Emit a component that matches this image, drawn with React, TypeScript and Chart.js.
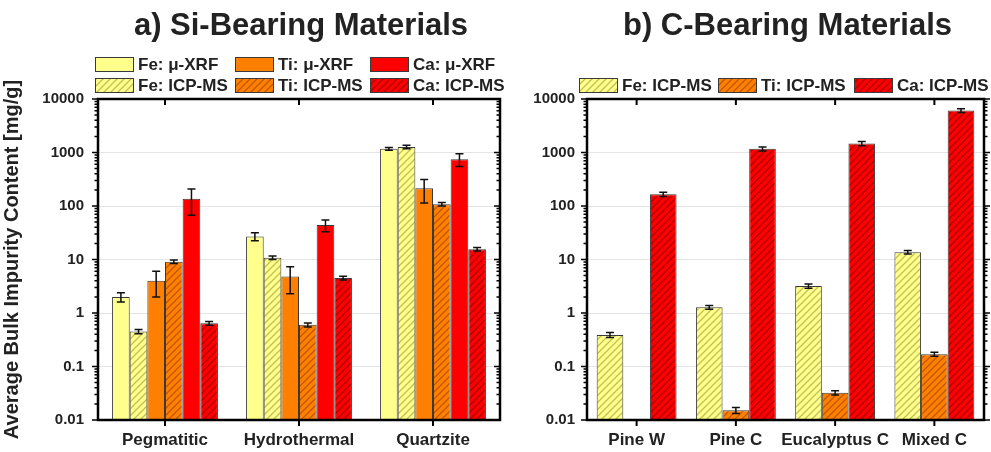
import React, { useEffect, useRef } from "react";
import { Chart, registerables } from "chart.js";
Chart.register(...registerables);

const FONT = "'Liberation Sans', Arial, sans-serif";

// ---------- data ----------
const siCategories = ["Pegmatitic", "Hydrothermal", "Quartzite"];
const cCategories = ["Pine W", "Pine C", "Eucalyptus C", "Mixed C"];
const tickLabels = ["0.01", "0.1", "1", "10", "100", "1000", "10000"];
const minorMultipliers = [2, 3, 4, 5, 6, 7, 8, 9];

const siFeXRF = [2.0, 27, 1170];
const siFeXRFErr = [0.4, 4.5, 70];
const siFeICP = [0.45, 10.8, 1270];
const siFeICPErr = [0.04, 0.8, 100];
const siTiXRF = [4.0, 4.8, 214];
const siTiXRFErr = [2.0, 2.5, 100];
const siTiICP = [9.1, 0.6, 108];
const siTiICPErr = [0.7, 0.05, 8];
const siCaXRF = [137, 44, 750];
const siCaXRFErr = [70, 11, 200];
const siCaICP = [0.64, 4.5, 15.6];
const siCaICPErr = [0.05, 0.35, 1.2];

const cFeICP = [0.39, 1.28, 3.2, 13.7];
const cFeICPErr = [0.04, 0.1, 0.3, 1.0];
const cTiICP = [null, 0.0152, 0.0323, 0.17];
const cTiICPErr = [null, 0.002, 0.003, 0.015];
const cCaICP = [165, 1170, 1470, 6080];
const cCaICPErr = [15, 100, 130, 500];

const seriesNames = ["Fe: \u03bc-XRF", "Fe: ICP-MS", "Ti: \u03bc-XRF", "Ti: ICP-MS", "Ca: \u03bc-XRF", "Ca: ICP-MS"];

// ---------- styles ----------
const COLORS = {
  Fe: { base: "#ffff8c", line: "#c4bf55" },
  Ti: { base: "#ff8000", line: "#c05800" },
  Ca: { base: "#ff0000", line: "#b00000" },
};
const BORDER = "#3a3a3a";
const TEXT = "#222";

function makeHatch(ctx: CanvasRenderingContext2D, base: string, line: string) {
  const s = 7;
  const c = document.createElement("canvas");
  c.width = s;
  c.height = s;
  const g = c.getContext("2d")!;
  g.fillStyle = base;
  g.fillRect(0, 0, s, s);
  g.strokeStyle = line;
  g.lineWidth = 1.3;
  g.beginPath();
  g.moveTo(-1, s + 1);
  g.lineTo(s + 1, -1);
  g.moveTo(-1, 1);
  g.lineTo(1, -1);
  g.moveTo(s - 1, s + 1);
  g.lineTo(s + 1, s - 1);
  g.stroke();
  return ctx.createPattern(c, "repeat")!;
}

const errorBarsPlugin = {
  id: "errorBars",
  afterDatasetsDraw(chart: any) {
    const ctx = chart.ctx;
    const y = chart.scales.y;
    chart.data.datasets.forEach((ds: any, di: number) => {
      const errs = ds.errors;
      if (!errs) return;
      const meta = chart.getDatasetMeta(di);
      meta.data.forEach((bar: any, i: number) => {
        const v = ds.data[i];
        const e = errs[i];
        if (v == null || e == null) return;
        const yt = y.getPixelForValue(v + e);
        const yb = y.getPixelForValue(Math.max(v - e, 1e-6));
        const x = bar.x;
        ctx.save();
        ctx.strokeStyle = "#111";
        ctx.lineWidth = 1.5;
        ctx.beginPath();
        ctx.moveTo(x, yt);
        ctx.lineTo(x, yb);
        ctx.moveTo(x - 4, yt);
        ctx.lineTo(x + 4, yt);
        ctx.moveTo(x - 4, yb);
        ctx.lineTo(x + 4, yb);
        ctx.stroke();
        ctx.restore();
      });
    });
  },
};

type LegendItem = { text: string; fill: any; x: number; y: number };

function decorPlugin(title: string, legend: LegendItem[], rightTicksOut: boolean) {
  return {
    id: "decor",
    afterDraw(chart: any) {
      const ctx: CanvasRenderingContext2D = chart.ctx;
      const { left, right, top, bottom } = chart.chartArea;
      const x = chart.scales.x;
      const y = chart.scales.y;
      ctx.save();
      // title
      ctx.fillStyle = TEXT;
      ctx.font = `bold 31px ${FONT}`;
      ctx.textAlign = "center";
      ctx.textBaseline = "alphabetic";
      ctx.fillText(title, (left + right) / 2 + 2, 35);
      // legend
      ctx.font = `bold 17px ${FONT}`;
      ctx.textAlign = "left";
      ctx.textBaseline = "middle";
      legend.forEach((it) => {
        ctx.fillStyle = it.fill;
        ctx.fillRect(it.x, it.y, 38, 14);
        ctx.strokeStyle = BORDER;
        ctx.lineWidth = 1;
        ctx.strokeRect(it.x + 0.5, it.y + 0.5, 38, 14);
        ctx.fillStyle = TEXT;
        ctx.fillText(it.text, it.x + 43, it.y + 8);
      });
      // y ticks (major + minor)
      ctx.strokeStyle = "#000";
      ctx.lineWidth = 1.5;
      ctx.beginPath();
      tickLabels.forEach((lab, k) => {
        const dec = Number(lab);
        const py = y.getPixelForValue(dec);
        ctx.moveTo(left - 6, py);
        ctx.lineTo(left, py);
        if (rightTicksOut) {
          ctx.moveTo(right, py);
          ctx.lineTo(right + 6, py);
        } else {
          ctx.moveTo(right - 6, py);
          ctx.lineTo(right, py);
        }
        if (k < tickLabels.length - 1) {
          minorMultipliers.forEach((m) => {
            const pm = y.getPixelForValue(dec * m);
            ctx.moveTo(left - 3.5, pm);
            ctx.lineTo(left, pm);
            if (rightTicksOut) {
              ctx.moveTo(right, pm);
              ctx.lineTo(right + 3.5, pm);
            } else {
              ctx.moveTo(right - 3.5, pm);
              ctx.lineTo(right, pm);
            }
          });
        }
      });
      ctx.stroke();
      // x ticks
      ctx.lineWidth = 2;
      ctx.beginPath();
      chart.data.labels.forEach((_: any, i: number) => {
        const px = x.getPixelForValue(i);
        ctx.moveTo(px, bottom);
        ctx.lineTo(px, bottom + 6);
        ctx.moveTo(px, top);
        ctx.lineTo(px, top + 6);
      });
      ctx.stroke();
      // frame
      ctx.lineWidth = 2.5;
      ctx.strokeRect(left, top, right - left, bottom - top);
      ctx.restore();
    },
  };
}

function baseOptions(yWidth: number, yPad: number, rightPad: number, showTitle: boolean, groupPct: number) {
  return {
    animation: false,
    responsive: false,
    maintainAspectRatio: false,
    layout: { padding: { top: 99, left: 0, right: rightPad, bottom: 0 } },
    datasets: { bar: { categoryPercentage: groupPct, barPercentage: 1.0 } },
    plugins: {
      legend: { display: false },
      title: { display: false },
      tooltip: { enabled: false },
    },
    scales: {
      x: {
        type: "category",
        grid: { display: false },
        border: { display: false },
        ticks: {
          autoSkip: false,
          font: { family: FONT, size: 17, weight: "bold" },
          color: TEXT,
          padding: 2,
          maxRotation: 0,
          minRotation: 0,
        },
        afterFit: (s: any) => {
          s.height = 32;
        },
      },
      y: {
        type: "logarithmic",
        min: 0.01,
        max: 10000,
        border: { display: false },
        grid: { color: "#e4e4e4", lineWidth: 1, drawTicks: false },
        afterBuildTicks: (s: any) => {
          s.ticks = tickLabels.map((l) => ({ value: Number(l) }));
        },
        ticks: {
          autoSkip: false,
          padding: yPad,
          color: TEXT,
          font: { family: FONT, size: 15, weight: "bold" },
          callback: (_v: any, i: number) => tickLabels[i],
        },
        title: {
          display: showTitle,
          text: "Average Bulk Impurity Content [mg/g]",
          color: TEXT,
          font: { family: FONT, size: 20, weight: "bold" },
          padding: 0,
        },
        afterFit: (s: any) => {
          s.width = yWidth;
        },
      },
    },
  };
}

export default function App() {
  const r1 = useRef<HTMLCanvasElement>(null);
  const r2 = useRef<HTMLCanvasElement>(null);

  useEffect(() => {
    const c1 = r1.current!;
    const c2 = r2.current!;
    const g1 = c1.getContext("2d")!;
    const g2 = c2.getContext("2d")!;

    const h1 = {
      Fe: makeHatch(g1, COLORS.Fe.base, COLORS.Fe.line),
      Ti: makeHatch(g1, COLORS.Ti.base, COLORS.Ti.line),
      Ca: makeHatch(g1, COLORS.Ca.base, COLORS.Ca.line),
    };
    const h2 = {
      Fe: makeHatch(g2, COLORS.Fe.base, COLORS.Fe.line),
      Ti: makeHatch(g2, COLORS.Ti.base, COLORS.Ti.line),
      Ca: makeHatch(g2, COLORS.Ca.base, COLORS.Ca.line),
    };

    const bar = (label: string, data: any[], errors: any[], fill: any) => ({
      label,
      data,
      errors,
      backgroundColor: fill,
      borderColor: BORDER,
      borderWidth: 1,
      borderSkipped: false,
    });

    const legend1: LegendItem[] = [
      { text: seriesNames[0], fill: COLORS.Fe.base, x: 95, y: 57 },
      { text: seriesNames[2], fill: COLORS.Ti.base, x: 235, y: 57 },
      { text: seriesNames[4], fill: COLORS.Ca.base, x: 370, y: 57 },
      { text: seriesNames[1], fill: h1.Fe, x: 95, y: 78 },
      { text: seriesNames[3], fill: h1.Ti, x: 235, y: 78 },
      { text: seriesNames[5], fill: h1.Ca, x: 370, y: 78 },
    ];
    const legend2: LegendItem[] = [
      { text: seriesNames[1], fill: h2.Fe, x: 69, y: 78 },
      { text: seriesNames[3], fill: h2.Ti, x: 208, y: 78 },
      { text: seriesNames[5], fill: h2.Ca, x: 344, y: 78 },
    ];

    const chart1 = new Chart(c1, {
      type: "bar",
      data: {
        labels: siCategories,
        datasets: [
          bar(seriesNames[0], siFeXRF, siFeXRFErr, COLORS.Fe.base),
          bar(seriesNames[1], siFeICP, siFeICPErr, h1.Fe),
          bar(seriesNames[2], siTiXRF, siTiXRFErr, COLORS.Ti.base),
          bar(seriesNames[3], siTiICP, siTiICPErr, h1.Ti),
          bar(seriesNames[4], siCaXRF, siCaXRFErr, COLORS.Ca.base),
          bar(seriesNames[5], siCaICP, siCaICPErr, h1.Ca),
        ] as any,
      },
      options: baseOptions(98, 14, 10, true, 0.79) as any,
      plugins: [errorBarsPlugin, decorPlugin("a) Si-Bearing Materials", legend1, false)] as any,
    });

    const chart2 = new Chart(c2, {
      type: "bar",
      data: {
        labels: cCategories,
        datasets: [
          bar(seriesNames[1], cFeICP, cFeICPErr, h2.Fe),
          bar(seriesNames[3], cTiICP, cTiICPErr, h2.Ti),
          bar(seriesNames[5], cCaICP, cCaICPErr, h2.Ca),
        ] as any,
      },
      options: baseOptions(77, 12, 7, false, 0.805) as any,
      plugins: [errorBarsPlugin, decorPlugin("b) C-Bearing Materials", legend2, true)] as any,
    });

    return () => {
      chart1.destroy();
      chart2.destroy();
    };
  }, []);

  return (
    <div style={{ position: "fixed", left: 0, top: 0, width: 991, height: 452, background: "#fff" }}>
      <canvas ref={r1} width={510} height={452} style={{ position: "absolute", left: 0, top: 0 }} />
      <canvas ref={r2} width={481} height={452} style={{ position: "absolute", left: 510, top: 0 }} />
    </div>
  );
}
